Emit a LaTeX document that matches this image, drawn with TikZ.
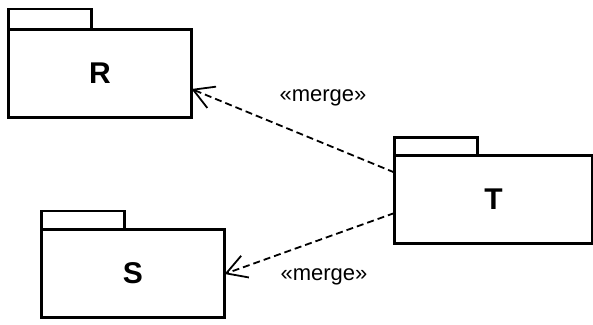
\documentclass[tikz,border=0pt]{standalone}
\usepackage{fontspec}
\setmainfont{Liberation Sans}
\usetikzlibrary{arrows.meta, positioning}

\begin{document}
\begin{tikzpicture}[
  x=1pt, y=-1pt,
  pkg/.style={draw, line width=3pt, minimum width=183pt, minimum height=88pt,
              inner sep=0pt, outer sep=0pt, font=\fontsize{30}{34}\selectfont\bfseries},
  pkgtab/.style={draw, line width=2.6pt, minimum width=83pt, minimum height=18pt,
                 inner sep=0pt, outer sep=0pt, anchor=south west},
  merge/.style={-{Straight Barb[length=20pt, width=23pt]}, line width=1.8pt,
                dash pattern=on 7pt off 4pt},
  stereo/.style={font=\fontsize{22}{26}\selectfont},
]
\useasboundingbox (0,0) rectangle (593,324);

% packages
\node[pkg] (R) at (100,73) {R};
\node[pkg] (S) at (133,273) {S};
\node[pkg, minimum width=198pt] (T) at (493.5,199.5) {T};

% tabs
\node[pkgtab, minimum height=20pt] (Rtab) at (R.north west) {};
\node[pkgtab] (Stab) at (S.north west) {};
\node[pkgtab] (Ttab) at (T.north west) {};

% merge dependencies
\draw[merge] ([yshift=27pt]T.west) -- ([yshift=-16pt]R.east);
\draw[merge] ([yshift=-13.5pt]T.west) -- ([yshift=-1pt]S.east);

\node[stereo] (m1) at (323,98) {«merge»};
\node[stereo] (m2) at (324,277) {«merge»};
\end{tikzpicture}
\end{document}
